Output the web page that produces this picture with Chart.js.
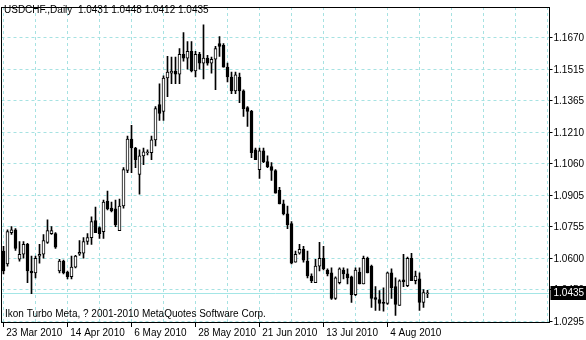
<!DOCTYPE html>
<html>
<head>
<meta charset="utf-8">
<script src="https://cdn.jsdelivr.net/npm/chart.js@4.4.0/dist/chart.umd.min.js"></script>
<style>
  html, body { margin: 0; padding: 0; background: #fff; }
</style>
</head>
<body>
<canvas id="chart" width="586" height="340"></canvas>
<script>
// USDCHF daily, 23 Mar 2010 .. 18 Aug 2010
var symbol = 'USDCHF.,Daily';
var footerText = 'Ikon Turbo Meta, ? 2001-2010 MetaQuotes Software Corp.';

var opens = [
  1.0637, 1.0575, 1.0727, 1.0741, 1.0598, 1.0622, 1.0670, 1.0541, 1.0532, 1.0613,
  1.0622, 1.0680, 1.0722, 1.0722, 1.0541, 1.0589, 1.0536, 1.0513, 1.0560, 1.0622,
  1.0627, 1.0684, 1.0703, 1.0785, 1.0751, 1.0732, 1.0880, 1.0846, 1.0842, 1.0737,
  1.0856, 1.1028, 1.1180, 1.1137, 1.1009, 1.1099, 1.1114, 1.1114, 1.1176, 1.1347,
  1.1314, 1.1476, 1.1500, 1.1510, 1.1495, 1.1591, 1.1572, 1.1605, 1.1510, 1.1591,
  1.1548, 1.1572, 1.1548, 1.1567, 1.1643, 1.1634, 1.1529, 1.1481, 1.1414, 1.1481,
  1.1414, 1.1333, 1.1314, 1.1128, 1.1032, 1.1123, 1.1071, 1.1047, 1.1028, 1.0932,
  1.0866, 1.0818, 1.0771, 1.0584, 1.0627, 1.0646, 1.0589, 1.0517, 1.0484, 1.0565,
  1.0603, 1.0546, 1.0532, 1.0408, 1.0484, 1.0546, 1.0527, 1.0513, 1.0427, 1.0536,
  1.0479, 1.0603, 1.0565, 1.0412, 1.0403, 1.0389, 1.0384, 1.0532, 1.0465, 1.0374,
  1.0498, 1.0470, 1.0603, 1.0494, 1.0503, 1.0389, 1.0431
];
var highs = [
  1.0660, 1.0741, 1.0756, 1.0746, 1.0684, 1.0684, 1.0675, 1.0613, 1.0613, 1.0670,
  1.0718, 1.0789, 1.0756, 1.0727, 1.0598, 1.0594, 1.0541, 1.0613, 1.0617, 1.0689,
  1.0703, 1.0722, 1.0803, 1.0851, 1.0755, 1.0885, 1.0928, 1.0875, 1.0885, 1.0889,
  1.1042, 1.1195, 1.1247, 1.1140, 1.1128, 1.1137, 1.1128, 1.1195, 1.1338, 1.1448,
  1.1486, 1.1581, 1.1577, 1.1577, 1.1619, 1.1696, 1.1653, 1.1653, 1.1605, 1.1600,
  1.1734, 1.1586, 1.1577, 1.1629, 1.1677, 1.1643, 1.1548, 1.1505, 1.1505, 1.1500,
  1.1419, 1.1338, 1.1319, 1.1137, 1.1137, 1.1137, 1.1099, 1.1066, 1.1032, 1.0947,
  1.0885, 1.0856, 1.0780, 1.0637, 1.0670, 1.0660, 1.0637, 1.0527, 1.0598, 1.0680,
  1.0660, 1.0551, 1.0556, 1.0513, 1.0556, 1.0556, 1.0551, 1.0517, 1.0556, 1.0556,
  1.0613, 1.0608, 1.0570, 1.0465, 1.0446, 1.0460, 1.0536, 1.0551, 1.0508, 1.0498,
  1.0622, 1.0608, 1.0627, 1.0541, 1.0532, 1.0451, 1.0448
];
var lows = [
  1.0527, 1.0565, 1.0718, 1.0641, 1.0589, 1.0603, 1.0484, 1.0431, 1.0508, 1.0579,
  1.0603, 1.0675, 1.0718, 1.0651, 1.0532, 1.0527, 1.0503, 1.0503, 1.0556, 1.0617,
  1.0603, 1.0670, 1.0670, 1.0727, 1.0699, 1.0699, 1.0837, 1.0827, 1.0756, 1.0737,
  1.0846, 1.1018, 1.1018, 1.1042, 1.0913, 1.1056, 1.1104, 1.1080, 1.1147, 1.1271,
  1.1271, 1.1386, 1.1448, 1.1448, 1.1448, 1.1557, 1.1519, 1.1505, 1.1481, 1.1519,
  1.1472, 1.1538, 1.1500, 1.1419, 1.1581, 1.1529, 1.1457, 1.1400, 1.1400, 1.1357,
  1.1290, 1.1242, 1.1090, 1.1080, 1.0990, 1.1066, 1.1042, 1.0980, 1.0918, 1.0866,
  1.0813, 1.0746, 1.0575, 1.0584, 1.0622, 1.0584, 1.0508, 1.0484, 1.0484, 1.0541,
  1.0546, 1.0517, 1.0403, 1.0403, 1.0479, 1.0503, 1.0479, 1.0389, 1.0422, 1.0479,
  1.0479, 1.0532, 1.0365, 1.0350, 1.0350, 1.0346, 1.0379, 1.0408, 1.0326, 1.0374,
  1.0465, 1.0465, 1.0494, 1.0479, 1.0350, 1.0365, 1.0412
];
var closes = [
  1.0541, 1.0732, 1.0741, 1.0651, 1.0622, 1.0670, 1.0541, 1.0532, 1.0603, 1.0622,
  1.0689, 1.0737, 1.0737, 1.0656, 1.0589, 1.0532, 1.0513, 1.0560, 1.0613, 1.0632,
  1.0684, 1.0703, 1.0780, 1.0727, 1.0722, 1.0875, 1.0842, 1.0832, 1.0766, 1.0856,
  1.1032, 1.1180, 1.1137, 1.1080, 1.1099, 1.1118, 1.1118, 1.1176, 1.1328, 1.1304,
  1.1476, 1.1505, 1.1510, 1.1495, 1.1591, 1.1572, 1.1605, 1.1510, 1.1591, 1.1548,
  1.1572, 1.1548, 1.1567, 1.1619, 1.1629, 1.1529, 1.1481, 1.1414, 1.1491, 1.1414,
  1.1328, 1.1314, 1.1114, 1.1080, 1.1123, 1.1071, 1.1047, 1.1028, 1.0918, 1.0866,
  1.0818, 1.0766, 1.0579, 1.0622, 1.0646, 1.0594, 1.0517, 1.0494, 1.0565, 1.0603,
  1.0551, 1.0527, 1.0408, 1.0508, 1.0551, 1.0527, 1.0508, 1.0427, 1.0546, 1.0479,
  1.0603, 1.0532, 1.0408, 1.0403, 1.0384, 1.0384, 1.0532, 1.0460, 1.0379, 1.0494,
  1.0489, 1.0603, 1.0494, 1.0517, 1.0389, 1.0436, 1.0435
];

// date labels every 16 bars, price levels on the right
var dateTicks = ['23 Mar 2010', '14 Apr 2010', '6 May 2010', '28 May 2010',
                 '21 Jun 2010', '13 Jul 2010', '4 Aug 2010'];
var priceTicks = [1.0295, 1.0450, 1.0600, 1.0755, 1.0905, 1.1060, 1.1210, 1.1365, 1.1515, 1.1670];

var totalSlots = 137;   // bars + empty space on the right of the chart
var labelStep = 16;
var gridStep = 8;

var fontFamily = "'Liberation Sans', Arial, sans-serif";
var fontSize = 10;
var gridColor = '#a6e2e2';
var bidColor = '#a4e6e6';

//categorie: un posto per ogni barra
var slots = [];
for (var i = 0; i < totalSlots; i++) {
  slots.push(String(i));
}

//corpi e stoppini delle candele
var bodies = opens.map(function(o, i) {
  return [Math.min(o, closes[i]), Math.max(o, closes[i])];
});
var wicks = lows.map(function(l, i) {
  return [l, highs[i]];
});
var bodyColors = opens.map(function(o, i) {
  return closes[i] >= o ? '#ffffff' : '#000000';
});

var last = opens.length - 1;

//testi, cornice e prezzo corrente
var mtOverlay = {
  id: 'mtOverlay',
  beforeDatasetsDraw: function(chart) {
    var ctx = chart.ctx;
    var a = chart.chartArea;
    var y = Math.round(chart.scales.y.getPixelForValue(closes[last])) + 0.5;
    ctx.save();
    ctx.strokeStyle = bidColor;
    ctx.lineWidth = 1;
    ctx.beginPath();
    ctx.moveTo(a.left, y);
    ctx.lineTo(a.right, y);
    ctx.stroke();
    ctx.restore();
  },
  afterDraw: function(chart) {
    var ctx = chart.ctx;
    var a = chart.chartArea;
    ctx.save();
    ctx.strokeStyle = '#000';
    ctx.lineWidth = 1;
    var l = Math.floor(a.left) + 0.5, t = Math.floor(a.top) + 0.5;
    var r = Math.floor(a.right) + 0.5, b = Math.floor(a.bottom) + 0.5;
    ctx.strokeRect(l, t, r - l, b - t);

    ctx.fillStyle = '#000';
    ctx.font = fontSize + 'px ' + fontFamily;
    ctx.textBaseline = 'top';
    ctx.textAlign = 'left';
    var ohlc = [opens[last], highs[last], lows[last], closes[last]].map(function(v) {
      return v.toFixed(4);
    }).join(' ');
    ctx.fillText(symbol + '  ' + ohlc, 4, 5);
    ctx.fillText(footerText, 5, 309);

    //etichetta prezzo
    var y = Math.round(chart.scales.y.getPixelForValue(closes[last]));
    ctx.fillRect(r + 1, y - 7, 36, 14);
    ctx.fillStyle = '#fff';
    ctx.textBaseline = 'middle';
    ctx.fillText(closes[last].toFixed(4), r + 4, y + 0.5);
    ctx.restore();
  }
};

var chart = new Chart(document.getElementById('chart'), {
  type: 'bar',
  data: {
    labels: slots,
    datasets: [{
      label: 'body',
      data: bodies,
      backgroundColor: bodyColors,
      borderColor: '#000',
      borderWidth: 1,
      borderSkipped: false,
      barThickness: 3,
      minBarLength: 1,
      grouped: false,
      order: 0
    }, {
      label: 'wick',
      data: wicks,
      backgroundColor: '#000',
      borderWidth: 0,
      barThickness: 1,
      grouped: false,
      order: 1
    }]
  },
  options: {
    responsive: false,
    animation: false,
    events: [],
    layout: { padding: { left: 1.5, top: 2, right: 0, bottom: 0 } },
    plugins: {
      legend: { display: false },
      tooltip: { enabled: false }
    },
    scales: {
      x: {
        type: 'category',
        offset: true,
        border: { display: false, dash: [3, 3] },
        grid: {
          offset: false,
          color: function(c) {
            return c.index % gridStep === 0 ? gridColor : 'rgba(0,0,0,0)';
          },
          tickLength: 5,
          tickBorderDash: [1, 0],
          tickColor: function(c) {
            return (c.index % labelStep === 0 && c.index / labelStep < dateTicks.length) ? '#000' : 'rgba(0,0,0,0)';
          }
        },
        ticks: {
          autoSkip: false,
          maxRotation: 0,
          minRotation: 0,
          align: 'start',
          padding: 0,
          color: '#000',
          font: { family: fontFamily, size: fontSize },
          callback: function(v, i) {
            if (i % labelStep !== 0) return '';
            var lbl = dateTicks[i / labelStep];
            return lbl ? ' ' + lbl : '';
          }
        },
        afterFit: function(scale) { scale.height = 18; }
      },
      y: {
        position: 'right',
        min: 1.0294,
        max: 1.1820,
        border: { display: false, dash: [3, 3] },
        grid: {
          color: gridColor,
          tickLength: 3,
          tickBorderDash: [1, 0],
          tickColor: '#000'
        },
        ticks: {
          padding: 1,
          color: '#000',
          font: { family: fontFamily, size: fontSize },
          callback: function(v) { return v.toFixed(4); }
        },
        afterBuildTicks: function(scale) {
          scale.ticks = priceTicks.map(function(v) { return { value: v }; });
        },
        afterFit: function(scale) { scale.width = 36.5; }
      }
    }
  },
  plugins: [mtOverlay]
});
</script>
</body>
</html>
